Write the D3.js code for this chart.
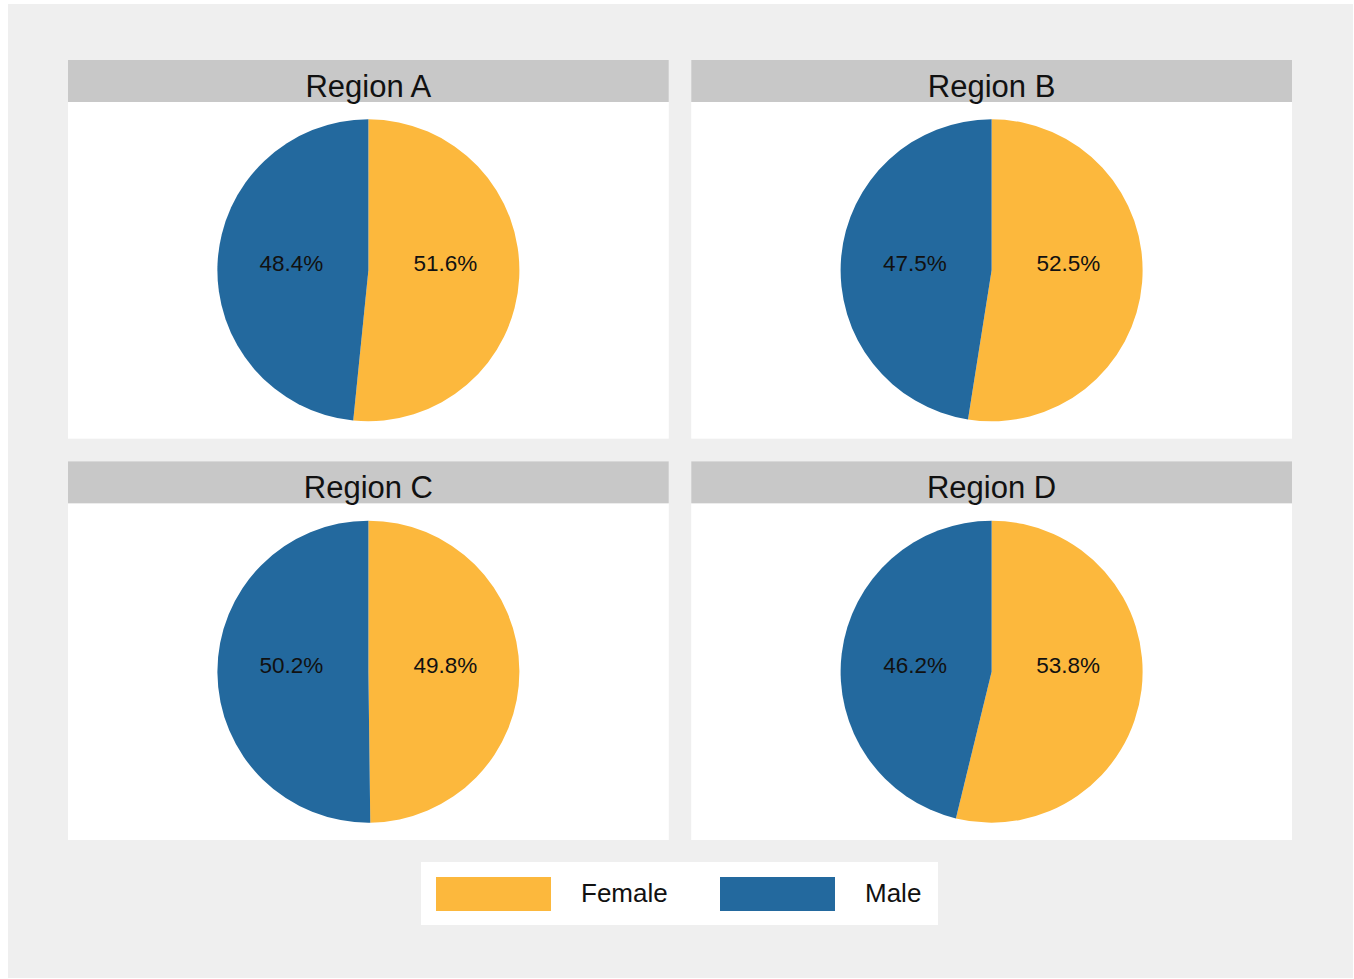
<!DOCTYPE html>
<html><head><meta charset="utf-8">
<script src="https://cdn.jsdelivr.net/npm/d3@7"></script>
<style>body{margin:0;background:#fff;}svg{display:block;font-family:"Liberation Sans",Arial,sans-serif;}</style>
</head><body>
<svg id="chart" width="1354" height="979"></svg>
<script>
const regions = ["Region A", "Region B", "Region C", "Region D"];
const genders = ["Female", "Male"];
const femaleShare = [51.6, 52.5, 49.8, 53.8];
const maleShare = [48.4, 47.5, 50.2, 46.2];
const colors = {Female: "#FCB83D", Male: "#23699E"};

const svg = d3.select("#chart");
svg.append("rect").attr("x", 8).attr("y", 4).attr("width", 1345).attr("height", 974).attr("fill", "#efefef");

const colX = d3.scaleBand().domain([0, 1]).range([68, 1292]).paddingInner(0.036);
const rowY = d3.scaleBand().domain([0, 1]).range([60, 840]).paddingInner(0.0565);
const stripH = 42;
const radius = 151;
const pie = d3.pie().sort(null).value(d => d.value);
const arc = d3.arc().innerRadius(0).outerRadius(radius);
const labelArc = d3.arc().innerRadius(radius * 0.5).outerRadius(radius * 0.5);

regions.forEach((reg, i) => {
  const px = colX(i % 2), py = rowY(Math.floor(i / 2));
  const w = colX.bandwidth(), h = rowY.bandwidth();
  const g = svg.append("g");
  g.append("rect").attr("x", px).attr("y", py).attr("width", w).attr("height", h).attr("fill", "#fff");
  g.append("rect").attr("x", px).attr("y", py).attr("width", w).attr("height", stripH).attr("fill", "#c8c8c8");
  g.append("text").attr("x", px + w / 2).attr("y", py + 37).attr("text-anchor", "middle")
    .attr("font-size", 31).attr("fill", "#111").text(reg);
  const cx = px + w / 2, cy = py + stripH + (h - stripH) / 2;
  const data = [{key: "Female", value: femaleShare[i]}, {key: "Male", value: maleShare[i]}];
  const arcs = pie(data);
  const pg = g.append("g").attr("transform", `translate(${cx},${cy})`);
  pg.selectAll("path").data(arcs).join("path").attr("d", arc).attr("fill", d => colors[d.data.key]);
  pg.selectAll("text").data(arcs).join("text")
    .attr("x", d => labelArc.centroid(d)[0] * 1.02)
    .attr("y", -5)
    .attr("text-anchor", "middle").attr("dominant-baseline", "middle")
    .attr("font-size", 22.5).attr("fill", "#111")
    .text(d => d.data.value.toFixed(1) + "%");
});

// legend
const lg = svg.append("g");
lg.append("rect").attr("x", 421).attr("y", 862).attr("width", 517).attr("height", 63).attr("fill", "#fff");
const legX = d3.scaleOrdinal().domain(genders).range([436, 720]);
genders.forEach(gd => {
  lg.append("rect").attr("x", legX(gd)).attr("y", 877).attr("width", 115).attr("height", 34).attr("fill", colors[gd]);
  lg.append("text").attr("x", legX(gd) + 145).attr("y", 895).attr("dominant-baseline", "middle")
    .attr("font-size", 26).attr("fill", "#111").text(gd);
});
</script>
</body></html>
